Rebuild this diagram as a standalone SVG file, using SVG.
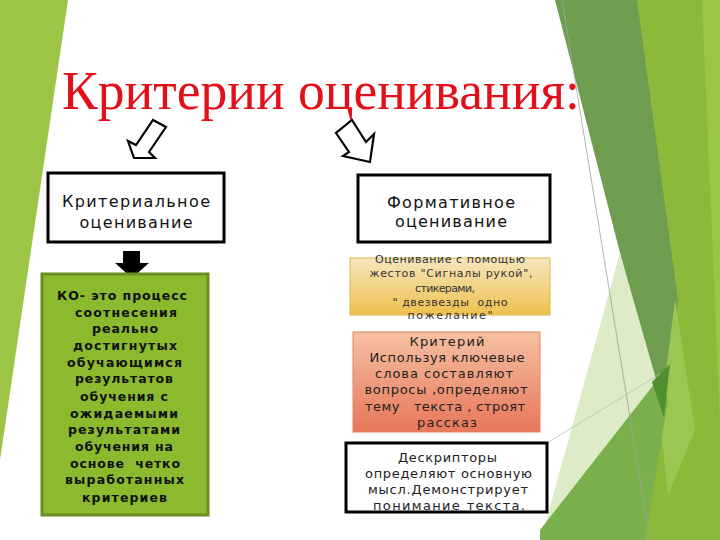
<svg xmlns="http://www.w3.org/2000/svg" width="720" height="540" viewBox="0 0 720 540">
<defs>
<linearGradient id="gy" x1="0" y1="0" x2="0" y2="1"><stop offset="0" stop-color="#F6E6BE"/><stop offset="1" stop-color="#EEC04E"/></linearGradient>
<linearGradient id="gs" x1="0" y1="0" x2="0" y2="1"><stop offset="0" stop-color="#F6C0A2"/><stop offset="1" stop-color="#E8765A"/></linearGradient>
<style>
.t{font-family:"DejaVu Sans",Verdana,sans-serif;text-anchor:middle;fill:#111;white-space:pre}
.b16{font-size:16px}
.s11{font-size:11px;fill:#333}
.s13{font-size:13px;fill:#222}
.g{font-size:12.5px;font-weight:bold;fill:#111}
.box{fill:#fff;stroke:#000;stroke-width:3}
.arr{fill:#fff;stroke:#000;stroke-width:2.2;stroke-linejoin:miter}
</style>
</defs>
<rect width="720" height="540" fill="#fff"/>
<g id="background">
<polygon points="0,0 68,0 0,460" fill="#9CC546"/>
<polygon points="636,0 720,0 720,540 635,540" fill="#8DB93B"/>
<polygon points="702,0 720,0 720,420" fill="#9BC645"/>
<polygon points="555,0 637,0 678,300 663,420" fill="#6E9D50"/>
<polygon points="620,253 662,400 545,525" fill="#DDEBC6"/>
<polygon points="675,300 695,430 668,495 660,420" fill="#9CC652"/>
<polygon points="540,540 540,530 655,383 668,400 645,540" fill="#79B04C"/>
<polygon points="652,382 670,364 664,418" fill="#4F8F2E"/>
<line x1="562" y1="0" x2="650" y2="540" stroke="#9AA39A" stroke-width="0.8"/>
<line x1="547" y1="443" x2="660" y2="374" stroke="#B8C2B8" stroke-width="0.8"/>
</g>
<text id="title" x="62" y="109" font-family="'Liberation Serif','Times New Roman',serif" font-size="54" fill="#E3101A" textLength="518" lengthAdjust="spacingAndGlyphs">Критерии оценивания:</text>
<g id="connectors">
<polygon class="arr" points="153,120 166,127 149,152 155,158 134,158 128,141 136,145"/>
<polygon class="arr" points="352,120 366,142 374,134 370,162 343,156 349,152 336,133"/>
<polygon points="123,251 140,251 140,263 149,263 132,278 115,263 123,263" fill="#000"/>
</g>
<g id="criterial">
<rect class="box" x="48" y="173" width="176" height="69"/>
<text class="t b16" x="136" y="207" textLength="148">Критериальное</text>
<text class="t b16" x="136" y="228" textLength="113">оценивание</text>
</g>
<g id="formative">
<rect class="box" x="358" y="175" width="192" height="67"/>
<text class="t b16" x="451" y="208" textLength="128">Формативное</text>
<text class="t b16" x="451" y="227" textLength="112">оценивание</text>
</g>
<g id="ko">
<rect x="42" y="274" width="166" height="241" fill="#8CB92E" stroke="#6A8E22" stroke-width="3"/>
<text class="t g" x="122" y="300" textLength="130">КО- это процесс</text>
<text class="t g" x="126" y="317" textLength="102">соотнесения</text>
<text class="t g" x="125" y="333" textLength="66">реально</text>
<text class="t g" x="125" y="350" textLength="104">достигнутых</text>
<text class="t g" x="124.5" y="367" textLength="115">обучающимся</text>
<text class="t g" x="124" y="383" textLength="98">результатов</text>
<text class="t g" x="124" y="401" textLength="88">обучения с</text>
<text class="t g" x="124" y="418" textLength="108">ожидаемыми</text>
<text class="t g" x="124" y="434" textLength="112">результатами</text>
<text class="t g" x="124" y="451" textLength="98">обучения на</text>
<text class="t g" x="125" y="468" textLength="110">основе  четко</text>
<text class="t g" x="124.5" y="484" textLength="119">выработанных</text>
<text class="t g" x="124.5" y="502" textLength="85">критериев</text>
</g>
<g id="gestures">
<rect x="350" y="258" width="200" height="57" fill="url(#gy)" stroke="#E0B84E" stroke-width="1"/>
<text class="t s11" x="450" y="263" textLength="150">Оценивание с помощью</text>
<text class="t s11" x="451" y="277" textLength="163">жестов "Сигналы рукой",</text>
<text class="t s11" x="445" y="292" textLength="60">стикерами,</text>
<text class="t s11" x="450" y="306" textLength="115">" двезвезды  одно</text>
<text class="t s11" x="450" y="319" textLength="85">пожелание"</text>
</g>
<g id="criterion">
<rect x="353" y="332" width="187" height="100" fill="url(#gs)" stroke="#E08462" stroke-width="1"/>
<text class="t s13" x="447" y="346" textLength="75">Критерий</text>
<text class="t s13" x="447" y="362" textLength="155">Используя ключевые</text>
<text class="t s13" x="444" y="378" textLength="138">слова составляют</text>
<text class="t s13" x="446" y="394" textLength="163">вопросы ,определяют</text>
<text class="t s13" x="445" y="411" textLength="160">тему   текста , строят</text>
<text class="t s13" x="447" y="427" textLength="60">рассказ</text>
</g>
<g id="descriptors">
<rect class="box" x="346" y="443" width="201" height="69"/>
<text class="t s13" x="447.5" y="462" textLength="99">Дескрипторы</text>
<text class="t s13" x="448.5" y="478" textLength="167">определяют основную</text>
<text class="t s13" x="448" y="494" textLength="160">мысл.Демонстрирует</text>
<text class="t s13" x="449" y="510" textLength="152">понимание текста.</text>
</g>
</svg>
